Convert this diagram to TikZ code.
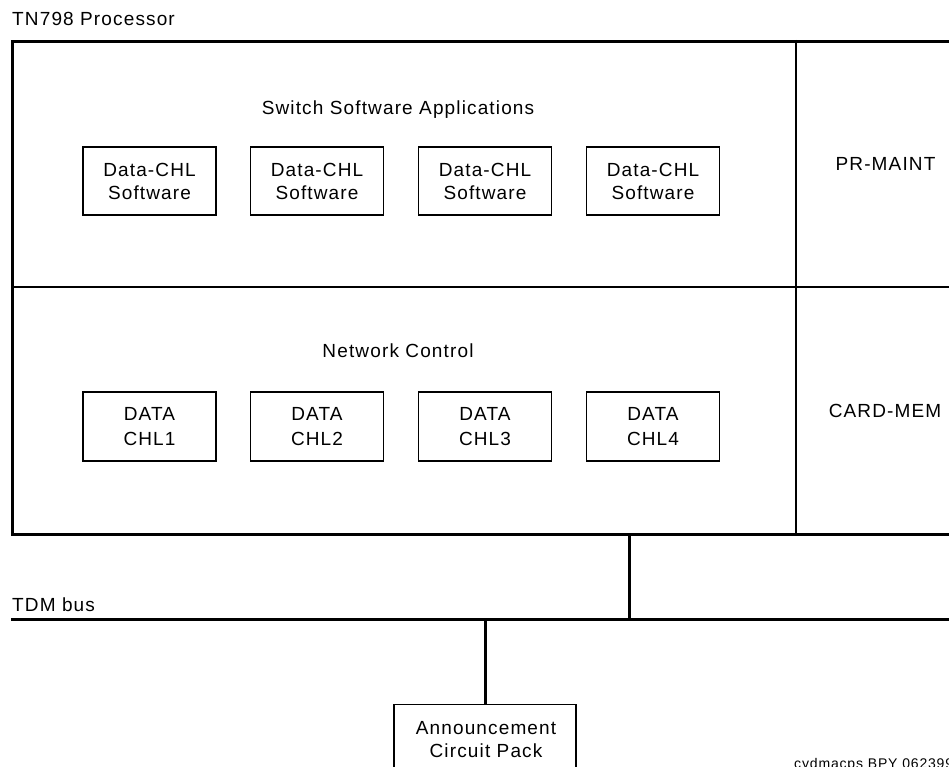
\documentclass[tikz,border=0pt]{standalone}
\usepackage{fontspec}
\setmainfont[LetterSpace=6]{Liberation Sans}
\begin{document}
\begin{tikzpicture}[x=1pt,y=-1pt,
  heavy/.style={line width=3pt},
  lbl/.style={inner sep=0pt,font=\fontsize{19pt}{23pt}\selectfont},
  chbox/.style={draw,line width=1.3pt,minimum width=133pt,minimum height=68pt,inner sep=0pt,align=center,font=\fontsize{19pt}{23pt}\selectfont},
  chbox2/.style={chbox,font=\fontsize{19pt}{25pt}\selectfont},
  footlbl/.style={inner sep=0pt,font=\fontsize{14pt}{16pt}\selectfont}]
\useasboundingbox (0,0) rectangle (949,767);
\clip (0,0) rectangle (949,767);
% outer processor box
\node[draw,heavy,minimum width=960pt,minimum height=493pt,anchor=north west,inner sep=0pt] (proc) at (11,40) {};
\draw[line width=2.6pt] (11,287) -- (975,287);
\draw[line width=1.3pt] (796,40) -- (796,533);
% labels
\node[lbl,anchor=base west] (title) at (12,26) {TN798 Processor};
\node[lbl,anchor=base] (ssa) at (398,115) {Switch Software Applications};
\node[lbl,anchor=base] (nc) at (398,357) {Network Control};
\node[lbl,anchor=base] (prm) at (885.5,171) {PR-MAINT};
\node[lbl,anchor=base] (cm) at (885,417) {CARD-MEM};
% top row
\node[chbox] (s1) at (149.5,181) {Data-CHL\\Software};
\node[chbox] (s2) at (317,181) {Data-CHL\\Software};
\node[chbox] (s3) at (485,181) {Data-CHL\\Software};
\node[chbox] (s4) at (653,181) {Data-CHL\\Software};
% bottom row
\node[chbox2,minimum height=69pt] (d1) at (149.5,426.5) {DATA\\CHL1};
\node[chbox2,minimum height=69pt] (d2) at (317,426.5) {DATA\\CHL2};
\node[chbox2,minimum height=69pt] (d3) at (485,426.5) {DATA\\CHL3};
\node[chbox2,minimum height=69pt] (d4) at (653,426.5) {DATA\\CHL4};
% TDM bus
\node[lbl,anchor=base west] (tdm) at (12,611) {TDM bus};
\coordinate (busL) at (11,619);
\coordinate (busR) at (960,619);
\coordinate (tap) at (629,619);
\draw[heavy] (busL) -- (busR);
\draw[heavy] (proc.south -| tap) -- (tap);
% announcement
\node[draw,line width=1.3pt,minimum width=182pt,minimum height=90pt,anchor=north,inner sep=0pt] (ann) at (485,704) {};
\node[lbl,anchor=base] (ann1) at (486,734) {Announcement};
\node[lbl,anchor=base] (ann2) at (486,757) {Circuit Pack};
\draw[heavy] (ann.north) -- (ann.north |- busL);
% footer
\node[footlbl,anchor=base west] (foot) at (794,768) {cydmacps BPY 062399};
\end{tikzpicture}
\end{document}
